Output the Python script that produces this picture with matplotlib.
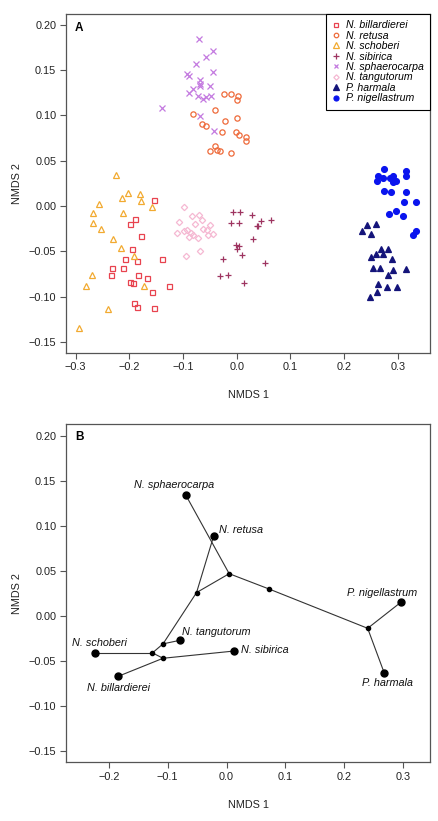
import matplotlib
matplotlib.use("Agg")
import matplotlib.pyplot as plt
from matplotlib.lines import Line2D

plt.rcParams['font.family'] = ['Liberation Sans', 'DejaVu Sans']

# ---------------- Panel A data ----------------
billardierei_x = [-0.155, -0.189, -0.198, -0.178, -0.195, -0.140, -0.209, -0.185, -0.233, -0.211,
                  -0.234, -0.184, -0.167, -0.199, -0.193, -0.126, -0.158, -0.191, -0.185, -0.154]
billardierei_y = [0.007, -0.014, -0.020, -0.033, -0.047, -0.058, -0.059, -0.061, -0.068, -0.069,
                  -0.076, -0.076, -0.080, -0.084, -0.085, -0.088, -0.095, -0.107, -0.112, -0.113]

retusa_x = [-0.023, -0.010, 0.003, 0.001, -0.041, -0.081, -0.021, 0.001, -0.064, -0.057,
            -0.027, -0.001, 0.004, 0.018, 0.018, -0.041, -0.037, -0.050, -0.032, -0.010]
retusa_y = [0.124, 0.124, 0.121, 0.117, 0.106, 0.102, 0.094, 0.097, 0.090, 0.088,
            0.082, 0.082, 0.078, 0.076, 0.072, 0.066, 0.062, 0.061, 0.061, 0.059]

schoberi_x = [-0.224, -0.202, -0.181, -0.213, -0.178, -0.157, -0.257, -0.211, -0.268, -0.268,
              -0.253, -0.230, -0.215, -0.192, -0.270, -0.281, -0.173, -0.239, -0.293]
schoberi_y = [0.034, 0.014, 0.013, 0.009, 0.005, -0.001, 0.002, -0.008, -0.008, -0.019,
              -0.025, -0.036, -0.046, -0.055, -0.076, -0.088, -0.088, -0.114, -0.135]

sibirica_x = [-0.007, 0.007, 0.029, -0.011, 0.005, 0.045, 0.037, 0.040, 0.064, 0.031,
              -0.002, 0.004, 0.001, 0.010, 0.053, -0.026, -0.032, -0.016, 0.014]
sibirica_y = [-0.007, -0.007, -0.010, -0.019, -0.019, -0.017, -0.022, -0.022, -0.015, -0.037,
              -0.043, -0.044, -0.048, -0.054, -0.063, -0.058, -0.077, -0.076, -0.085]

sphaerocarpa_x = [-0.070, -0.044, -0.058, -0.075, -0.045, -0.093, -0.089, -0.068, -0.069, -0.069,
                  -0.049, -0.081, -0.088, -0.073, -0.058, -0.063, -0.047, -0.139, -0.069, -0.042]
sphaerocarpa_y = [0.184, 0.171, 0.165, 0.157, 0.148, 0.146, 0.143, 0.139, 0.135, 0.133,
                  0.132, 0.129, 0.125, 0.121, 0.120, 0.118, 0.122, 0.108, 0.099, 0.083]

tangutorum_x = [-0.099, -0.084, -0.070, -0.065, -0.107, -0.078, -0.050, -0.062, -0.111, -0.098,
                -0.093, -0.085, -0.081, -0.089, -0.073, -0.055, -0.053, -0.044, -0.069, -0.094]
tangutorum_y = [-0.001, -0.011, -0.010, -0.015, -0.018, -0.020, -0.021, -0.025, -0.030, -0.028,
                -0.027, -0.030, -0.032, -0.034, -0.035, -0.027, -0.032, -0.031, -0.050, -0.055]

harmala_x = [0.243, 0.259, 0.233, 0.251, 0.259, 0.251, 0.269, 0.281, 0.272, 0.290,
             0.253, 0.266, 0.281, 0.291, 0.316, 0.263, 0.279, 0.299, 0.262, 0.249]
harmala_y = [-0.021, -0.020, -0.028, -0.031, -0.053, -0.056, -0.048, -0.048, -0.053, -0.059,
             -0.068, -0.068, -0.076, -0.071, -0.070, -0.086, -0.090, -0.089, -0.095, -0.101]

nigellastrum_x = [0.274, 0.315, 0.263, 0.315, 0.272, 0.285, 0.292, 0.262, 0.291, 0.297,
                  0.274, 0.288, 0.315, 0.312, 0.333, 0.284, 0.296, 0.309, 0.328, 0.334]
nigellastrum_y = [0.041, 0.039, 0.033, 0.033, 0.031, 0.031, 0.033, 0.028, 0.026, 0.028,
                  0.017, 0.015, 0.016, 0.004, 0.004, -0.009, -0.005, -0.011, -0.032, -0.028]

species_names = ["N. billardierei", "N. retusa", "N. schoberi", "N. sibirica",
                 "N. sphaerocarpa", "N. tangutorum", "P. harmala", "P. nigellastrum"]

# ---------------- Panel B data ----------------
node_names = ["N. sphaerocarpa", "N. retusa", "N. schoberi", "N. billardierei",
              "N. tangutorum", "N. sibirica", "P. nigellastrum", "P. harmala"]
node_x = [-0.069, -0.022, -0.2245, -0.184, -0.079, 0.012, 0.296, 0.268]
node_y = [0.134, 0.0886, -0.041, -0.067, -0.027, -0.039, 0.015, -0.063]

inner_x = [-0.126, -0.108, -0.108, -0.051, 0.0045, 0.073, 0.240]
inner_y = [-0.041, -0.031, -0.047, 0.026, 0.047, 0.0298, -0.0137]

# edges: ('n', i) = named node, ('i', j) = inner node
edges = [(('n', 0), ('i', 4)), (('n', 1), ('i', 3)), (('i', 3), ('i', 4)),
         (('i', 3), ('i', 1)), (('i', 1), ('n', 4)), (('i', 1), ('i', 0)),
         (('i', 0), ('n', 2)), (('i', 0), ('i', 2)), (('i', 2), ('n', 5)),
         (('i', 2), ('n', 3)), (('i', 4), ('i', 5)), (('i', 5), ('i', 6)),
         (('i', 6), ('n', 6)), (('i', 6), ('n', 7))]

label_x = [-0.0896, -0.0126, -0.2155, -0.184, -0.076, 0.0238, 0.264, 0.273]
label_y = [0.145, 0.095, -0.030, -0.080, -0.0174, -0.038, 0.026, -0.0744]
label_ha = ['center', 'left', 'center', 'center', 'left', 'left', 'center', 'center']

W, H = 438, 821
fig = plt.figure(figsize=(W / 100, H / 100), dpi=100)

frame_col = '#555555'
fs = 7.8


def style_axes(ax):
    for s in ax.spines.values():
        s.set_color(frame_col)
        s.set_linewidth(0.9)
    ax.tick_params(direction='out', length=4, width=0.8, color=frame_col,
                   labelsize=fs, pad=3, labelcolor='#222222')


# ---------------- Panel A ----------------
axA = fig.add_axes([66 / W, 1 - 352.7 / H, 364 / W, 338.7 / H])
series = [
    (billardierei_x, billardierei_y, 's', '#E8434F', 'none', 3.6),
    (retusa_x, retusa_y, 'o', '#EE6A3A', 'none', 3.8),
    (schoberi_x, schoberi_y, '^', '#F2AA30', 'none', 4.6),
    (sibirica_x, sibirica_y, '+', '#9E3460', 'none', 5.0),
    (sphaerocarpa_x, sphaerocarpa_y, 'x', '#C47AE0', 'none', 4.0),
    (tangutorum_x, tangutorum_y, 'D', '#F5B8D2', 'none', 3.2),
    (harmala_x, harmala_y, '^', '#14147A', '#14147A', 4.4),
    (nigellastrum_x, nigellastrum_y, 'o', '#0A14EE', '#0A14EE', 4.2),
]
handles = []
for (xs, ys, m, c, fc, ms), name in zip(series, species_names):
    axA.plot(xs, ys, linestyle='none', marker=m, markersize=ms, markeredgecolor=c,
             markerfacecolor=fc, markeredgewidth=0.9)
    handles.append(Line2D([], [], linestyle='none', marker=m, markersize=ms * 0.85,
                          markeredgecolor=c, markerfacecolor=fc, markeredgewidth=0.9))

axA.set_xlim(-0.318, 0.36)
axA.set_ylim(-0.162, 0.212)
axA.set_xticks([-0.3, -0.2, -0.1, 0.0, 0.1, 0.2, 0.3])
axA.set_xticklabels(['\u22120.3', '\u22120.2', '\u22120.1', '0.0', '0.1', '0.2', '0.3'])
axA.set_yticks([-0.15, -0.10, -0.05, 0.0, 0.05, 0.10, 0.15, 0.20])
axA.set_yticklabels(['\u22120.15', '\u22120.10', '\u22120.05', '0.00', '0.05', '0.10', '0.15', '0.20'])
style_axes(axA)
axA.set_xlabel('NMDS 1', fontsize=fs, labelpad=13, color='#222222')
axA.set_ylabel('NMDS 2', fontsize=fs, labelpad=5, color='#222222')
axA.text(0.036, 0.958, 'A', transform=axA.transAxes, fontsize=8.5, fontweight='bold',
         ha='center', va='center')
leg = axA.legend(handles, species_names, loc='upper right', borderaxespad=0,
                 fancybox=False, framealpha=1, edgecolor='black', handlelength=0.8,
                 handletextpad=0.5, labelspacing=0.04, borderpad=0.6,
                 prop={'size': 7.6, 'style': 'italic'})
leg.get_frame().set_linewidth(0.8)

# ---------------- Panel B ----------------
axB = fig.add_axes([66 / W, 1 - 762.3 / H, 364 / W, 338 / H])


def pt(ref):
    kind, idx = ref
    if kind == 'n':
        return node_x[idx], node_y[idx]
    return inner_x[idx], inner_y[idx]


for a, b in edges:
    (x0, y0), (x1, y1) = pt(a), pt(b)
    axB.plot([x0, x1], [y0, y1], color='#333333', linewidth=0.8, zorder=1)
axB.plot(inner_x, inner_y, linestyle='none', marker='o', markersize=3.0, color='black', zorder=2)
axB.plot(node_x, node_y, linestyle='none', marker='o', markersize=5.0, color='black', zorder=3)
for name, lx, ly, ha in zip(node_names, label_x, label_y, label_ha):
    axB.text(lx, ly, name, fontsize=fs, style='italic', ha=ha, va='center', color='#111111')

axB.set_xlim(-0.273, 0.346)
axB.set_ylim(-0.1626, 0.213)
axB.set_xticks([-0.2, -0.1, 0.0, 0.1, 0.2, 0.3])
axB.set_xticklabels(['\u22120.2', '\u22120.1', '0.0', '0.1', '0.2', '0.3'])
axB.set_yticks([-0.15, -0.10, -0.05, 0.0, 0.05, 0.10, 0.15, 0.20])
axB.set_yticklabels(['\u22120.15', '\u22120.10', '\u22120.05', '0.00', '0.05', '0.10', '0.15', '0.20'])
style_axes(axB)
axB.set_xlabel('NMDS 1', fontsize=fs, labelpad=13, color='#222222')
axB.set_ylabel('NMDS 2', fontsize=fs, labelpad=5, color='#222222')
axB.text(0.036, 0.9615, 'B', transform=axB.transAxes, fontsize=8.5, fontweight='bold',
         ha='center', va='center')

fig.savefig('out.png', dpi=100)
